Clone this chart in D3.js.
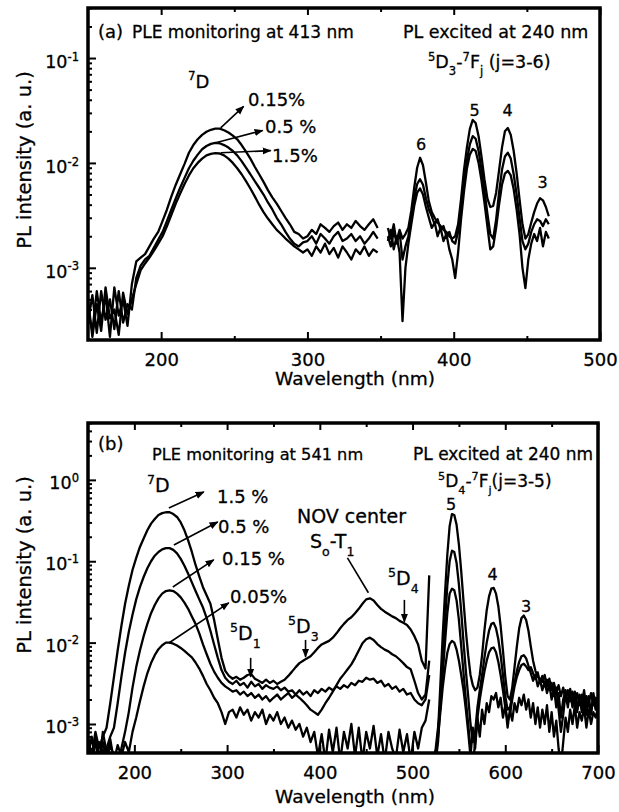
<!DOCTYPE html>
<html>
<head>
<meta charset="utf-8">
<script src="https://cdn.jsdelivr.net/npm/d3@7"></script>
<style>
  body { margin: 0; background: #fff; }
  text { font-family: "DejaVu Sans", sans-serif; fill: #000; stroke: #000; stroke-width: 0.3px; }
</style>
</head>
<body>
<svg id="chart" width="619" height="812"></svg>
<script>
// ---------- panel (a): PLE monitoring at 413 nm ----------
const wlPleA = d3.range(150, 349, 3);   // 150 .. 348 nm
const pleA015 = [
  4e-4, 2.5e-4, 6e-4, 3e-4, 5.5e-4, 2.2e-4, 6.5e-4, 3.5e-4, 5e-4, 2.8e-4,
  7e-4, 1.15e-3, 1.25e-3, 1.35e-3, 1.6e-3, 1.9e-3, 2.2e-3, 2.8e-3, 3.6e-3, 4.8e-3,
  6.2e-3, 7.8e-3, 9.8e-3, 1.25e-2, 1.48e-2, 1.68e-2, 1.85e-2, 1.98e-2, 2.07e-2, 2.12e-2,
  2.12e-2, 2.05e-2, 1.95e-2, 1.82e-2, 1.68e-2, 1.48e-2, 1.28e-2, 1.1e-2, 9.2e-3, 7.8e-3,
  6.6e-3, 5.5e-3, 4.7e-3, 4.1e-3, 3.5e-3, 3.0e-3, 2.6e-3, 2.2e-3, 2.1e-3, 1.9e-3,
  2.0e-3, 2.3e-3, 2.1e-3, 2.6e-3, 2.4e-3, 2.2e-3, 2.5e-3, 2.7e-3, 2.3e-3, 2.6e-3,
  2.4e-3, 2.8e-3, 2.5e-3, 2.3e-3, 2.6e-3, 2.9e-3, 2.4e-3
];
const pleA05 = [
  3e-4, 5.5e-4, 2.4e-4, 6e-4, 3.2e-4, 5e-4, 2.6e-4, 6e-4, 3e-4, 4.5e-4,
  4e-4, 8e-4, 1.05e-3, 1.2e-3, 1.3e-3, 1.55e-3, 1.85e-3, 2.2e-3, 2.8e-3, 3.6e-3,
  4.6e-3, 5.8e-3, 7.2e-3, 8.9e-3, 1.05e-2, 1.2e-2, 1.35e-2, 1.45e-2, 1.52e-2, 1.55e-2,
  1.54e-2, 1.48e-2, 1.4e-2, 1.3e-2, 1.18e-2, 1.04e-2, 9e-3, 7.8e-3, 6.7e-3, 5.8e-3,
  5e-3, 4.2e-3, 3.6e-3, 3.0e-3, 2.6e-3, 2.2e-3, 1.9e-3, 1.7e-3, 1.6e-3, 1.75e-3,
  1.8e-3, 2.0e-3, 1.7e-3, 2.1e-3, 1.9e-3, 1.7e-3, 2.0e-3, 2.2e-3, 1.8e-3, 1.9e-3,
  2.1e-3, 1.8e-3, 2.0e-3, 1.7e-3, 1.9e-3, 2.2e-3, 1.9e-3
];
const pleA15 = [
  5e-4, 2.2e-4, 4.5e-4, 2.5e-4, 6.5e-4, 3.3e-4, 4e-4, 2.3e-4, 5.8e-4, 3.6e-4,
  5e-4, 7e-4, 9.5e-4, 1.1e-3, 1.25e-3, 1.45e-3, 1.7e-3, 2.0e-3, 2.5e-3, 3.2e-3,
  4.1e-3, 5.1e-3, 6.3e-3, 7.6e-3, 8.9e-3, 1.0e-2, 1.1e-2, 1.18e-2, 1.22e-2, 1.24e-2,
  1.23e-2, 1.18e-2, 1.1e-2, 1.0e-2, 8.9e-3, 7.8e-3, 6.7e-3, 5.7e-3, 4.8e-3, 4.0e-3,
  3.4e-3, 2.95e-3, 2.6e-3, 2.3e-3, 2.1e-3, 1.9e-3, 1.75e-3, 1.6e-3, 1.5e-3, 1.4e-3,
  1.5e-3, 1.3e-3, 1.6e-3, 1.4e-3, 1.7e-3, 1.35e-3, 1.55e-3, 1.25e-3, 1.6e-3, 1.4e-3,
  1.2e-3, 1.5e-3, 1.35e-3, 1.6e-3, 1.3e-3, 1.5e-3, 1.4e-3
];

// ---------- panel (a): PL excited at 240 nm ----------
const wlPlA = d3.range(355, 466, 2);    // 355 .. 465 nm
const plA1 = [
  2.0e-3, 1.6e-3, 2.2e-3, 1.8e-3, 2.3e-3, 1.9e-3, 2.1e-3, 2.4e-3, 3.5e-3, 5.8e-3,
  9.0e-3, 1.12e-2, 9.5e-3, 6.5e-3, 4.3e-3, 3.4e-3, 3.0e-3, 2.7e-3, 2.5e-3, 2.3e-3,
  2.2e-3, 2.0e-3, 1.9e-3, 2.0e-3, 2.6e-3, 4.5e-3, 8.5e-3, 1.4e-2, 2.1e-2, 2.57e-2,
  2.4e-2, 1.8e-2, 1.15e-2, 7.0e-3, 4.6e-3, 3.8e-3, 3.9e-3, 5.2e-3, 8.5e-3, 1.4e-2,
  2.0e-2, 2.15e-2, 1.85e-2, 1.3e-2, 8e-3, 4.5e-3, 2.6e-3, 1.9e-3, 2.1e-3, 2.7e-3,
  3.4e-3, 4.1e-3, 4.6e-3, 4.4e-3, 3.8e-3, 3.1e-3
];
const plA2 = [
  2.4e-3, 1.9e-3, 2.6e-3, 1.7e-3, 2.2e-3, 1.2e-3, 1.6e-3, 2.0e-3, 3.0e-3, 4.6e-3,
  6.3e-3, 7.0e-3, 6.2e-3, 4.6e-3, 3.6e-3, 3.1e-3, 2.6e-3, 2.9e-3, 2.3e-3, 2.5e-3,
  2.0e-3, 2.2e-3, 1.8e-3, 1.7e-3, 2.2e-3, 3.6e-3, 6.4e-3, 1.05e-2, 1.5e-2, 1.8e-2,
  1.7e-2, 1.3e-2, 8.6e-3, 5.4e-3, 3.3e-3, 2.1e-3, 1.9e-3, 2.9e-3, 5.2e-3, 8.6e-3,
  1.15e-2, 1.25e-2, 1.1e-2, 7.8e-3, 5.0e-3, 3.0e-3, 1.8e-3, 1.5e-3, 1.7e-3, 2.2e-3,
  2.6e-3, 2.9e-3, 2.8e-3, 2.5e-3, 2.9e-3, 2.6e-3
];
const plA3 = [
  1.8e-3, 2.3e-3, 1.5e-3, 2.0e-3, 1.4e-3, 3.1e-4, 1.0e-3, 1.7e-3, 2.6e-3, 3.9e-3,
  5.2e-3, 5.7e-3, 5.0e-3, 3.8e-3, 3.0e-3, 2.4e-3, 2.7e-3, 2.0e-3, 2.4e-3, 1.8e-3,
  2.1e-3, 1.5e-3, 1.2e-3, 8.0e-4, 1.4e-3, 2.9e-3, 5.3e-3, 8.8e-3, 1.2e-2, 1.36e-2,
  1.3e-2, 1.0e-2, 6.8e-3, 4.2e-3, 2.5e-3, 1.5e-3, 1.6e-3, 2.4e-3, 4.0e-3, 6.2e-3,
  7.9e-3, 8.4e-3, 7.6e-3, 5.6e-3, 3.6e-3, 2.1e-3, 1.0e-3, 6.4e-4, 1.2e-3, 1.7e-3,
  2.1e-3, 1.8e-3, 2.4e-3, 1.6e-3, 2.2e-3, 1.9e-3
];

// ---------- panel (b): PLE monitoring at 541 nm ----------
const wlPleB = d3.range(150, 519, 4);   // 150 .. 518 nm
const pleB15 = [
  6e-4, 4e-4, 8e-4, 5e-4, 7e-4, 9e-4, 1.8e-3, 3.8e-3, 8e-3, 1.6e-2,
  3.0e-2, 5.0e-2, 7.8e-2, 0.11, 0.15, 0.19, 0.24, 0.29, 0.33, 0.37,
  0.39, 0.40, 0.40, 0.38, 0.35, 0.30, 0.24, 0.18, 0.13, 0.09,
  0.065, 0.048, 0.038, 0.030, 0.019, 0.011, 6.5e-3, 4.5e-3, 3.9e-3, 3.6e-3,
  3.8e-3, 3.5e-3, 3.7e-3, 4.0e-3, 4.1e-3, 3.6e-3, 3.4e-3, 3.2e-3, 3.5e-3, 3.2e-3,
  3.4e-3, 3.1e-3, 3.3e-3, 3.5e-3, 3.9e-3, 4.4e-3, 5.0e-3, 5.6e-3, 6.0e-3, 6.4e-3,
  6.8e-3, 7.6e-3, 8.6e-3, 9.5e-3, 1.0e-2, 1.05e-2, 1.15e-2, 1.3e-2, 1.5e-2, 1.7e-2,
  1.9e-2, 2.05e-2, 2.3e-2, 2.6e-2, 3.0e-2, 3.4e-2, 3.5e-2, 3.3e-2, 2.9e-2, 2.6e-2,
  2.4e-2, 2.25e-2, 2.1e-2, 2.0e-2, 1.85e-2, 1.75e-2, 1.65e-2, 1.45e-2, 1.2e-2, 9.5e-3,
  6.0e-3, 4.8e-3, 6.7e-2
];
const pleB05 = [
  4e-4, 7e-4, 3.5e-4, 6e-4, 4.5e-4, 5e-4, 7e-4, 9e-4, 1.8e-3, 3.8e-3,
  7.5e-3, 1.35e-2, 2.2e-2, 3.4e-2, 4.8e-2, 6.4e-2, 8.2e-2, 0.10, 0.117, 0.13,
  0.14, 0.145, 0.145, 0.138, 0.125, 0.107, 0.088, 0.07, 0.055, 0.043,
  0.034, 0.027, 0.020, 0.014, 9.5e-3, 6.5e-3, 4.6e-3, 3.7e-3, 3.3e-3, 3.1e-3,
  3.4e-3, 3.0e-3, 3.2e-3, 2.8e-3, 3.3e-3, 2.9e-3, 3.1e-3, 2.7e-3, 3.0e-3, 2.8e-3,
  2.7e-3, 2.9e-3, 2.6e-3, 2.8e-3, 2.5e-3, 2.6e-3, 2.3e-3, 2.1e-3, 1.9e-3, 1.7e-3,
  1.5e-3, 1.4e-3, 1.3e-3, 1.5e-3, 1.8e-3, 2.1e-3, 2.5e-3, 3.0e-3, 3.6e-3, 4.1e-3,
  4.7e-3, 5.4e-3, 6.5e-3, 8.0e-3, 9.8e-3, 1.1e-2, 1.15e-2, 1.08e-2, 9.6e-3, 8.8e-3,
  8.2e-3, 7.8e-3, 7.2e-3, 6.8e-3, 6.2e-3, 5.6e-3, 5.0e-3, 4.7e-3, 3.4e-3, 2.4e-3,
  2.0e-3, 2.3e-3, 6.0e-3
];
const pleB015 = [
  5e-4, 3e-4, 7e-4, 4e-4, 6e-4, 3.5e-4, 5.5e-4, 4e-4, 3.2e-4, 5e-4,
  8e-4, 1.4e-3, 2.8e-3, 5.0e-3, 8.0e-3, 1.2e-2, 1.7e-2, 2.3e-2, 2.9e-2, 3.5e-2,
  0.040, 0.043, 0.044, 0.043, 0.040, 0.036, 0.031, 0.026, 0.021, 0.017,
  0.013, 9.5e-3, 7.2e-3, 5.5e-3, 4.4e-3, 3.7e-3, 3.2e-3, 2.9e-3, 2.7e-3, 2.5e-3,
  2.6e-3, 2.3e-3, 2.5e-3, 2.2e-3, 2.4e-3, 2.1e-3, 2.3e-3, 2.0e-3, 2.2e-3, 1.9e-3,
  2.1e-3, 2.3e-3, 2.0e-3, 2.2e-3, 2.4e-3, 2.1e-3, 2.3e-3, 2.6e-3, 2.3e-3, 2.5e-3,
  2.2e-3, 2.6e-3, 2.4e-3, 2.7e-3, 2.5e-3, 2.8e-3, 2.6e-3, 2.9e-3, 2.7e-3, 3.0e-3,
  2.8e-3, 3.2e-3, 3.0e-3, 3.4e-3, 3.3e-3, 3.7e-3, 3.5e-3, 3.6e-3, 3.2e-3, 3.4e-3,
  2.9e-3, 3.1e-3, 2.7e-3, 2.9e-3, 2.5e-3, 2.7e-3, 2.3e-3, 2.4e-3, 2.0e-3, 1.8e-3,
  1.7e-3, 2.0e-3, 4.0e-3
];
const pleB005 = [
  7e-4, 4e-4, 6e-4, 3e-4, 8e-4, 4.5e-4, 6.5e-4, 3.5e-4, 5.5e-4, 4e-4,
  6e-4, 4.5e-4, 8e-4, 1.2e-3, 1.9e-3, 2.9e-3, 4.2e-3, 5.6e-3, 7.0e-3, 8.3e-3,
  9.3e-3, 1.0e-2, 1.0e-2, 9.7e-3, 9.2e-3, 8.6e-3, 7.9e-3, 7.2e-3, 6.6e-3, 5.7e-3,
  4.8e-3, 3.9e-3, 3.1e-3, 2.6e-3, 2.1e-3, 1.8e-3, 1.4e-3, 1.0e-3, 1.4e-3, 1.5e-3,
  1.2e-3, 1.6e-3, 1.3e-3, 1.5e-3, 1.1e-3, 1.4e-3, 1.2e-3, 1.5e-3, 1.0e-3, 1.3e-3,
  1.1e-3, 1.4e-3, 1.0e-3, 1.2e-3, 9e-4, 1.1e-3, 8.5e-4, 1.0e-3, 7e-4, 9e-4,
  6e-4, 8e-4, 4e-4, 7.5e-4, 3.5e-4, 8.5e-4, 4.5e-4, 9e-4, 3.5e-4, 8e-4,
  5e-4, 1.0e-3, 4e-4, 9e-4, 3.5e-4, 8e-4, 5e-4, 9.5e-4, 4e-4, 7.5e-4,
  3.5e-4, 8e-4, 5e-4, 3.8e-4, 8.5e-4, 4.5e-4, 7.5e-4, 3.5e-4, 8e-4, 5e-4,
  9e-4, 1.1e-3, 2.0e-3
];

// ---------- panel (b): PL excited at 240 nm ----------
const wlPlB = d3.range(520, 700.1, 2.5);   // 520 .. 700 nm
const plB1 = [
  3e-4, 3e-4, 4e-4, 8e-4, 3e-3, 1.2e-2, 4.0e-2, 0.12, 0.27, 0.38,
  0.37, 0.28, 0.16, 0.075, 0.032, 0.014, 7e-3, 4e-3, 3e-3, 2.6e-3,
  2.8e-3, 4e-3, 7e-3, 1.4e-2, 2.5e-2, 3.7e-2, 4.6e-2, 4.7e-2, 4.0e-2, 2.8e-2,
  1.6e-2, 8e-3, 3.8e-3, 2.2e-3, 2.0e-3, 2.8e-3, 5e-3, 9e-3, 1.5e-2, 2.0e-2,
  2.15e-2, 1.9e-2, 1.4e-2, 9e-3, 6e-3, 4.5e-3, 3.8e-3, 3.6e-3, 3.3e-3, 4.0e-3,
  2.9e-3, 3.6e-3, 2.6e-3, 3.2e-3, 2.4e-3, 3.0e-3, 2.2e-3, 2.8e-3, 2.0e-3, 2.6e-3,
  1.9e-3, 2.5e-3, 1.8e-3, 2.4e-3, 1.7e-3, 2.3e-3, 1.6e-3, 2.2e-3, 1.8e-3, 2.4e-3,
  1.7e-3, 2.1e-3, 1.8e-3
];
const plB2 = [
  3e-4, 3e-4, 3.5e-4, 6e-4, 1.8e-3, 6e-3, 1.8e-2, 5e-2, 0.10, 0.135,
  0.13, 0.095, 0.052, 0.024, 0.01, 4.5e-3, 2.2e-3, 1e-3, 6e-4, 8e-4,
  1.6e-3, 2.6e-3, 4e-3, 6.5e-3, 1.0e-2, 1.4e-2, 1.7e-2, 1.75e-2, 1.5e-2, 1.1e-2,
  7e-3, 4e-3, 2.2e-3, 1.5e-3, 1.6e-3, 2.2e-3, 3.2e-3, 4.5e-3, 5.8e-3, 6.8e-3,
  7e-3, 6.4e-3, 5.2e-3, 4.2e-3, 3.4e-3, 4.0e-3, 2.9e-3, 3.5e-3, 2.6e-3, 3.3e-3,
  2.4e-3, 3.1e-3, 2.0e-3, 2.8e-3, 1.6e-3, 2.4e-3, 1.2e-3, 2.0e-3, 2.6e-3, 1.8e-3,
  2.5e-3, 1.6e-3, 2.3e-3, 1.5e-3, 2.2e-3, 1.4e-3, 2.0e-3, 1.3e-3, 1.9e-3, 1.4e-3,
  2.1e-3, 1.5e-3, 1.9e-3
];
const plB3 = [
  3e-4, 3.5e-4, 5e-4, 9e-4, 1.6e-3, 4e-3, 1.0e-2, 2.3e-2, 4.0e-2, 4.6e-2,
  4.4e-2, 3.3e-2, 1.9e-2, 9e-3, 4.2e-3, 2e-3, 1e-3, 5e-4, 3e-4, 6e-4,
  1.2e-3, 2e-3, 3e-3, 4.4e-3, 6e-3, 7.6e-3, 8.5e-3, 8.7e-3, 7.6e-3, 5.8e-3,
  4e-3, 2.6e-3, 1.6e-3, 1.1e-3, 1.3e-3, 2e-3, 2.9e-3, 3.8e-3, 4.6e-3, 5.3e-3,
  5.5e-3, 5.1e-3, 4.6e-3, 5e-3, 4.2e-3, 3.6e-3, 4.3e-3, 3.2e-3, 3.9e-3, 2.9e-3,
  3.5e-3, 2.6e-3, 3.2e-3, 2.2e-3, 2.8e-3, 1.5e-3, 8e-4, 1.3e-3, 2.4e-3, 1.6e-3,
  2.7e-3, 1.8e-3, 2.5e-3, 1.4e-3, 2.3e-3, 1.7e-3, 2.6e-3, 1.5e-3, 2.2e-3, 1.3e-3,
  2.4e-3, 1.6e-3, 2.0e-3
];
const plB4 = [
  3e-4, 3e-4, 4e-4, 7e-4, 1.4e-3, 2.8e-3, 4.8e-3, 7.5e-3, 9.6e-3, 1.05e-2,
  1.0e-2, 8.2e-3, 6e-3, 4e-3, 2.6e-3, 1.5e-3, 8e-4, 4e-4, 9e-4, 5e-4,
  1.2e-3, 7e-4, 1.5e-3, 1e-3, 1.8e-3, 1.4e-3, 2.2e-3, 2.0e-3, 2.4e-3, 1.6e-3,
  2.1e-3, 1.2e-3, 1.7e-3, 9e-4, 1.5e-3, 1.1e-3, 1.8e-3, 1.4e-3, 2.1e-3, 1.7e-3,
  2.3e-3, 1.5e-3, 2.0e-3, 1.2e-3, 1.8e-3, 1.0e-3, 1.6e-3, 9e-4, 1.5e-3, 1.0e-3,
  1.7e-3, 8e-4, 1.4e-3, 7e-4, 1.1e-3, 5e-4, 3e-4, 6e-4, 1.2e-3, 8e-4,
  1.5e-3, 1.0e-3, 1.7e-3, 9e-4, 1.4e-3, 1.1e-3, 1.6e-3, 9e-4, 1.5e-3, 1.0e-3,
  1.4e-3, 1.2e-3, 1.6e-3
];

// tick values
const xMajorA = [200, 300, 400, 500];
const xMinorA = [250, 350, 450];
const xMajorB = [200, 300, 400, 500, 600, 700];
const xMinorB = [250, 350, 450, 550, 650];
const yDecadesA = [1e-3, 1e-2, 1e-1];
const yDecadesB = [1e-3, 1e-2, 1e-1, 1];

// arrows in data coordinates [wl0, v0, wl1, v1, head]
const arrowsA = [
  [240.7, 0.0216, 256.4, 0.0346, true],
  [237.3, 0.0156, 269.4, 0.0204, true],
  [240.7, 0.0125, 274.9, 0.0131, true]
];
const arrowsB = [
  [237.2, 0.45, 274.9, 0.71, true],
  [242.6, 0.158, 289.9, 0.304, true],
  [241.5, 0.0483, 285.6, 0.104, true],
  [237.2, 0.0099, 301.8, 0.0308, true],
  [429.8, 0.11, 452.4, 0.041, false],
  [491.2, 0.0335, 491.2, 0.0180, true],
  [384.6, 0.0108, 384.6, 0.0067, true],
  [325.4, 0.0065, 325.4, 0.0038, true]
];

const svg = d3.select("#chart");
const defs = svg.append("defs");
defs.append("marker")
  .attr("id", "head")
  .attr("viewBox", "0 0 10 10")
  .attr("refX", 9).attr("refY", 5)
  .attr("markerUnits", "userSpaceOnUse")
  .attr("markerWidth", 9).attr("markerHeight", 9)
  .attr("orient", "auto")
  .append("path").attr("d", "M0,1L10,5L0,9Z").attr("fill", "#000");

// text with super/subscripts: parts = [[str, "sup"|"sub"|undefined], ...]
function richText(g, x, y, parts, size, anchor) {
  const t = g.append("text")
    .attr("x", x).attr("y", y)
    .attr("font-size", size)
    .attr("text-anchor", anchor || "start");
  let shift = 0;
  parts.forEach(([s, kind]) => {
    const target = kind === "sup" ? -0.42 * size : kind === "sub" ? 0.4 * size : 0;
    t.append("tspan")
      .attr("dy", target - shift)
      .attr("font-size", kind ? size * 0.66 : size)
      .text(s);
    shift = target;
  });
  return t;
}

function drawPanel(p) {
  const x = d3.scaleLinear().domain(p.xDomain).range([p.left, p.right]);
  const y = d3.scaleLog().domain(p.yDomain).range([p.bottom, p.top]);
  const g = svg.append("g");

  defs.append("clipPath").attr("id", "clip-" + p.name)
    .append("rect")
    .attr("x", p.left).attr("y", p.top)
    .attr("width", p.right - p.left).attr("height", p.bottom - p.top);

  const line = d3.line().x(d => x(d[0])).y(d => y(d[1]));
  const curves = g.append("g").attr("clip-path", `url(#clip-${p.name})`);
  p.series.forEach(s => {
    curves.append("path")
      .datum(d3.zip(s[0], s[1]))
      .attr("fill", "none")
      .attr("stroke", "#000")
      .attr("stroke-width", 2.3)
      .attr("stroke-linejoin", "round")
      .attr("d", line);
  });

  // x axes (ticks point inside)
  const bottom = g.append("g").attr("transform", `translate(0,${p.bottom})`)
    .call(d3.axisBottom(x).tickValues(p.xMajor).tickSize(-8).tickPadding(13).tickFormat(d3.format("d")));
  bottom.selectAll("text").attr("font-size", 18);
  g.append("g").attr("transform", `translate(0,${p.bottom})`)
    .call(d3.axisBottom(x).tickValues(p.xMinor).tickSize(-4).tickFormat(""));
  g.append("g").attr("transform", `translate(0,${p.top})`)
    .call(d3.axisTop(x).tickValues(p.xMajor).tickSize(-7).tickFormat(""));
  g.append("g").attr("transform", `translate(0,${p.top})`)
    .call(d3.axisTop(x).tickValues(p.xMinor).tickSize(-4).tickFormat(""));

  // y axis (log)
  const minor = y.ticks().filter(t => Math.abs(Math.log10(t) - Math.round(Math.log10(t))) > 1e-6);
  g.append("g").attr("transform", `translate(${p.left},0)`)
    .call(d3.axisLeft(y).tickValues(p.yMajor).tickSize(-8).tickFormat(""));
  g.append("g").attr("transform", `translate(${p.left},0)`)
    .call(d3.axisLeft(y).tickValues(minor).tickSize(-4).tickFormat(""));
  p.yMajor.forEach(v => {
    richText(g, 79, y(v) + p.labelDy, [["10"], [String(Math.round(Math.log10(v))), "sup"]], 17.5, "end");
  });

  g.selectAll(".domain").remove();
  g.selectAll(".tick line").attr("stroke-width", 2);

  // frame
  g.append("rect")
    .attr("x", p.left).attr("y", p.top)
    .attr("width", p.right - p.left).attr("height", p.bottom - p.top)
    .attr("fill", "none").attr("stroke", "#000").attr("stroke-width", 3.5);

  // arrows / pointer lines
  p.arrows.forEach(a => {
    g.append("line")
      .attr("x1", x(a[0])).attr("y1", y(a[1]))
      .attr("x2", x(a[2])).attr("y2", y(a[3]))
      .attr("stroke", "#000").attr("stroke-width", 1.6)
      .attr("marker-end", a[4] ? "url(#head)" : null);
  });

  // axis titles
  g.append("text")
    .attr("x", 355).attr("y", p.xTitleY)
    .attr("text-anchor", "middle").attr("font-size", 18.5)
    .text("Wavelength (nm)");
  g.append("text")
    .attr("transform", `translate(31,${p.yTitleY}) rotate(-90)`)
    .attr("text-anchor", "middle").attr("font-size", 19.5)
    .text("PL intensity (a. u.)");

  p.labels.forEach(l => {
    g.append("text")
      .attr("x", l.x).attr("y", l.y)
      .attr("font-size", l.s)
      .attr("text-anchor", l.a || "start")
      .text(l.t);
  });
  p.rich.forEach(r => richText(g, r.x, r.y, r.parts, r.s));
}

drawPanel({
  name: "a",
  left: 88, right: 600, top: 8, bottom: 340,
  xDomain: [150, 500], yDomain: [2.05e-4, 0.3],
  xMajor: xMajorA, xMinor: xMinorA, yMajor: yDecadesA, labelDy: 10,
  xTitleY: 385, yTitleY: 160,
  series: [
    [wlPleA, pleA015], [wlPleA, pleA05], [wlPleA, pleA15],
    [wlPlA, plA1], [wlPlA, plA2], [wlPlA, plA3]
  ],
  arrows: arrowsA,
  labels: [
    { t: "(a)", x: 98, y: 38, s: 18 },
    { t: "PLE monitoring at 413 nm", x: 132, y: 38, s: 17 },
    { t: "PL excited at 240 nm", x: 403, y: 38, s: 17.5 },
    { t: "0.15%", x: 248, y: 106, s: 18 },
    { t: "0.5 %", x: 265, y: 133, s: 18 },
    { t: "1.5%", x: 272, y: 162, s: 18 },
    { t: "6", x: 421, y: 150, s: 16, a: "middle" },
    { t: "5", x: 474.5, y: 116, s: 16, a: "middle" },
    { t: "4", x: 507.5, y: 116, s: 16, a: "middle" },
    { t: "3", x: 542.5, y: 188, s: 16, a: "middle" }
  ],
  rich: [
    { x: 428, y: 68, s: 17.5, parts: [["5", "sup"], ["D"], ["3", "sub"], ["-"], ["7", "sup"], ["F"], ["j", "sub"], [" (j=3-6)"]] },
    { x: 188, y: 88, s: 18, parts: [["7", "sup"], ["D"]] }
  ]
});

drawPanel({
  name: "b",
  left: 88, right: 598, top: 423, bottom: 753,
  xDomain: [150, 700], yDomain: [4.4e-4, 5],
  xMajor: xMajorB, xMinor: xMinorB, yMajor: yDecadesB, labelDy: 9,
  xTitleY: 803, yTitleY: 565,
  series: [
    [wlPleB, pleB15], [wlPleB, pleB05], [wlPleB, pleB015], [wlPleB, pleB005],
    [wlPlB, plB1], [wlPlB, plB2], [wlPlB, plB3], [wlPlB, plB4]
  ],
  arrows: arrowsB,
  labels: [
    { t: "(b)", x: 98, y: 450, s: 18 },
    { t: "PLE monitoring at 541 nm", x: 152, y: 460, s: 16.2 },
    { t: "PL excited at 240 nm", x: 413, y: 460, s: 17 },
    { t: "1.5 %", x: 217, y: 503, s: 18 },
    { t: "0.5 %", x: 218, y: 533, s: 18 },
    { t: "0.15 %", x: 222, y: 565, s: 18 },
    { t: "0.05%", x: 230, y: 603, s: 18 },
    { t: "NOV center", x: 297, y: 523, s: 19 },
    { t: "5", x: 451, y: 510, s: 16, a: "middle" },
    { t: "4", x: 492.5, y: 580, s: 16, a: "middle" },
    { t: "3", x: 526, y: 612, s: 16, a: "middle" }
  ],
  rich: [
    { x: 438, y: 487, s: 17, parts: [["5", "sup"], ["D"], ["4", "sub"], ["-"], ["7", "sup"], ["F"], ["j", "sub"], ["(j=3-5)"]] },
    { x: 147, y: 492, s: 19, parts: [["7", "sup"], ["D"]] },
    { x: 310, y: 548, s: 19, parts: [["S"], ["o", "sub"], ["-T"], ["1", "sub"]] },
    { x: 388, y: 585, s: 19, parts: [["5", "sup"], ["D"], ["4", "sub"]] },
    { x: 288, y: 633, s: 19, parts: [["5", "sup"], ["D"], ["3", "sub"]] },
    { x: 230, y: 640, s: 19, parts: [["5", "sup"], ["D"], ["1", "sub"]] }
  ]
});
</script>
</body>
</html>
